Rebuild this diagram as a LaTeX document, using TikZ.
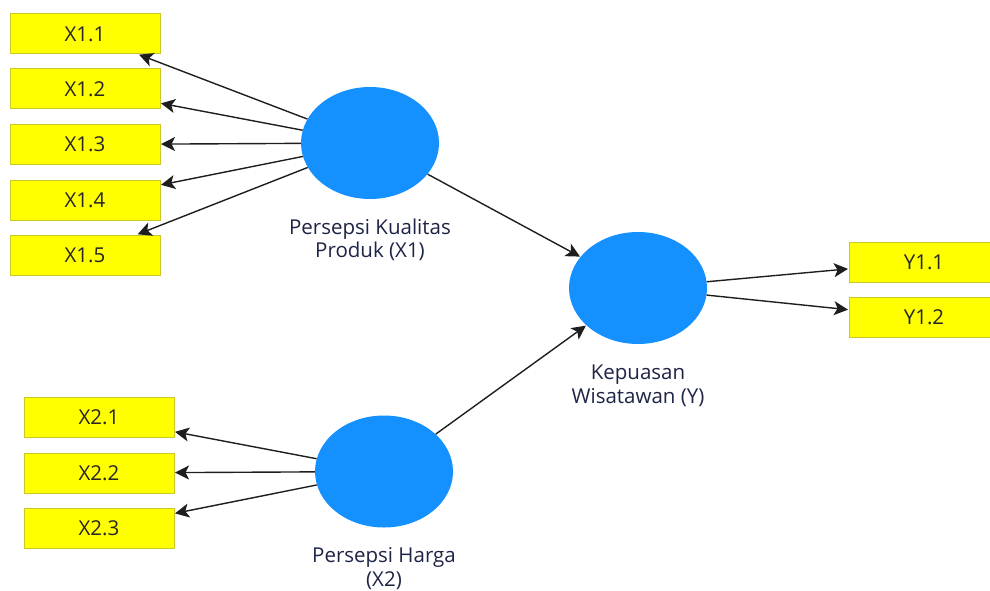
\documentclass[tikz,border=0pt]{standalone}
\usepackage{fontspec}
\setmainfont{Open Sans}
\usetikzlibrary{shapes.geometric,arrows.meta}
\definecolor{lvblue}{RGB}{20,144,255}
\definecolor{indyellow}{RGB}{255,255,0}
\definecolor{indborder}{RGB}{200,200,40}
\definecolor{labtext}{RGB}{30,36,70}
\definecolor{edgecol}{RGB}{30,30,30}
\begin{document}
\begin{tikzpicture}[x=1pt,y=-1pt,
  ind/.style={rectangle,fill=indyellow,draw=indborder,line width=1pt,minimum width=150pt,minimum height=40pt,inner sep=0pt,font=\fontsize{20.5}{24}\selectfont,text=black!85},
  lv/.style={ellipse,fill=lvblue,minimum width=138pt,minimum height=112pt,inner sep=0pt},
  lvlab/.style={align=center,font=\fontsize{20.5}{23.5}\selectfont,text=labtext,inner sep=0pt},
  arr/.style={draw=edgecol,line width=1.4pt,-{Stealth[length=14pt,width=14pt,inset=3.5pt]},shorten >=0.5pt}
]
\useasboundingbox (0,0) rectangle (990,591);
% indicator boxes
\node[ind] (x11) at (85,34) {X1.1};
\node[ind] (x12) at (85,89) {X1.2};
\node[ind] (x13) at (85,144.5) {X1.3};
\node[ind] (x14) at (85,200) {X1.4};
\node[ind] (x15) at (85,255) {X1.5};
\node[ind] (x21) at (99,417.5) {X2.1};
\node[ind] (x22) at (99,473) {X2.2};
\node[ind] (x23) at (99,528.5) {X2.3};
\node[ind] (y11) at (924,262) {Y1.1};
\node[ind] (y12) at (924,317.5) {Y1.2};
% latent variables
\node[lv] (X1) at (370,143) {};
\node[lv] (Y) at (638,288) {};
\node[lv] (X2) at (384,471.5) {};
% labels
\node[lvlab] (X1lab) at (370,240) {Persepsi Kualitas\\Produk (X1)};
\node[lvlab] (Ylab) at (638,386) {Kepuasan\\Wisatawan (Y)};
\node[lvlab] (X2lab) at (384,568.5) {Persepsi Harga\\(X2)};
% connectors
\foreach \t in {x11,x12,x13,x14,x15} \draw[arr] (X1) -- (\t);
\foreach \t in {x21,x22,x23} \draw[arr] (X2) -- (\t);
\draw[arr] (X1) -- (Y);
\draw[arr] (X2) -- (Y);
\draw[arr] (Y) -- (y11);
\draw[arr] (Y) -- (y12);
\end{tikzpicture}
\end{document}
